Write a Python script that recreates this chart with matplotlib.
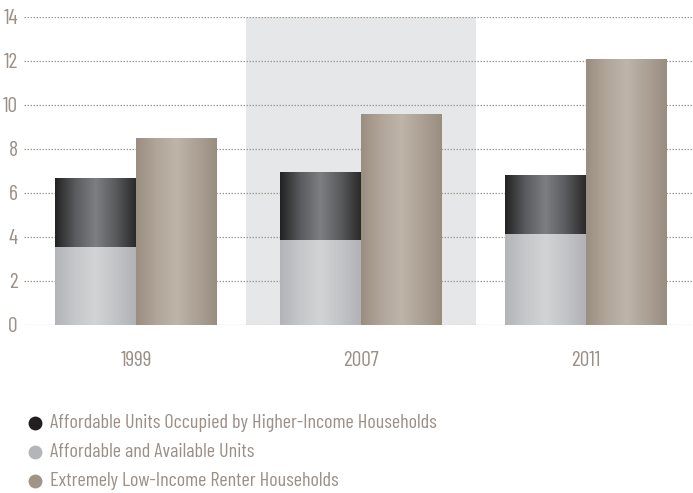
import numpy as np
import matplotlib
matplotlib.use("Agg")
import matplotlib.pyplot as plt
from matplotlib.lines import Line2D
from matplotlib.colors import LinearSegmentedColormap

years = ["1999", "2007", "2011"]
available = [3.55, 3.87, 4.14]
higher_income = [3.13, 3.08, 2.68]
eli_renters = [8.5, 9.6, 12.1]
series_labels = ["Affordable Units Occupied by Higher-Income Households",
                 "Affordable and Available Units",
                 "Extremely Low-Income Renter Households"]
yticks = [0, 2, 4, 6, 8, 10, 12, 14]

FONT = ['Barlow Condensed', 'DejaVu Sans']
TXT = '#9b8f86'
plt.rcParams['font.family'] = FONT

fig = plt.figure(figsize=(6.93, 4.93), dpi=100)
W, H = 693, 493
ax = fig.add_axes([24 / W, (H - 325) / H, (693 - 24) / W, (325 - 17) / H])

x = np.arange(len(years))
bw = 0.36

cm_dark = LinearSegmentedColormap.from_list('d', ['#222223', '#5a5b5e', '#7d7e82', '#5a5b5e', '#2a2a2b'])
cm_light = LinearSegmentedColormap.from_list('l', ['#b3b4b8', '#c6c7ca', '#d2d3d5', '#c3c4c7', '#b1b2b6'])
cm_taupe = LinearSegmentedColormap.from_list('t', ['#9a8e81', '#b0a598', '#beb4a9', '#aca194', '#998d80'])
grad = np.linspace(0, 1, 256).reshape(1, -1)

ax.axvspan(0.49, 1.51, color='#e6e7e8', zorder=0, lw=0)

def grad_bars(xs, heights, bottoms, cmap):
    bars = ax.bar(xs, heights, bw, bottom=bottoms, color='none', lw=0, zorder=3)
    for b in bars:
        x0, y0 = b.get_x(), b.get_y()
        im = ax.imshow(grad, extent=[x0, x0 + b.get_width(), y0, y0 + b.get_height()],
                       aspect='auto', cmap=cmap, zorder=3, interpolation='bilinear')
        im.set_clip_path(b)
    return bars

grad_bars(x - bw / 2, available, [0] * 3, cm_light)
grad_bars(x - bw / 2, higher_income, available, cm_dark)
grad_bars(x + bw / 2, eli_renters, [0] * 3, cm_taupe)

ax.set_xlim(-0.498, 2.476)
ax.set_ylim(0, 14)
ax.set_yticks(yticks)
ax.set_yticklabels([str(v) for v in yticks])
for v in yticks:
    ax.axhline(v, color='#a39a92', lw=0.9, ls=(0, (1.2, 1.2)), zorder=1)
for s in ax.spines.values():
    s.set_visible(False)
ax.tick_params(axis='y', length=0, pad=4.5, labelsize=15.5, labelcolor=TXT)
ax.tick_params(axis='x', length=0, pad=19, labelsize=15.5, labelcolor=TXT)
ax.set_xticks(x)
ax.set_xticklabels(years)
ax.set_facecolor('none')

leg_colors = ['#231f20', '#b4b5b9', '#a09487']
ys = [423, 452, 481]
for lab, c, yy in zip(series_labels, leg_colors, ys):
    fy = 1 - yy / H
    fig.add_artist(Line2D([35 / W], [fy], marker='o', markersize=10, color=c, mec='none',
                          transform=fig.transFigure))
    fig.text(50 / W, fy, lab, color=TXT, fontsize=14.5, va='center', ha='left')

fig.savefig('out.png', dpi=100)
